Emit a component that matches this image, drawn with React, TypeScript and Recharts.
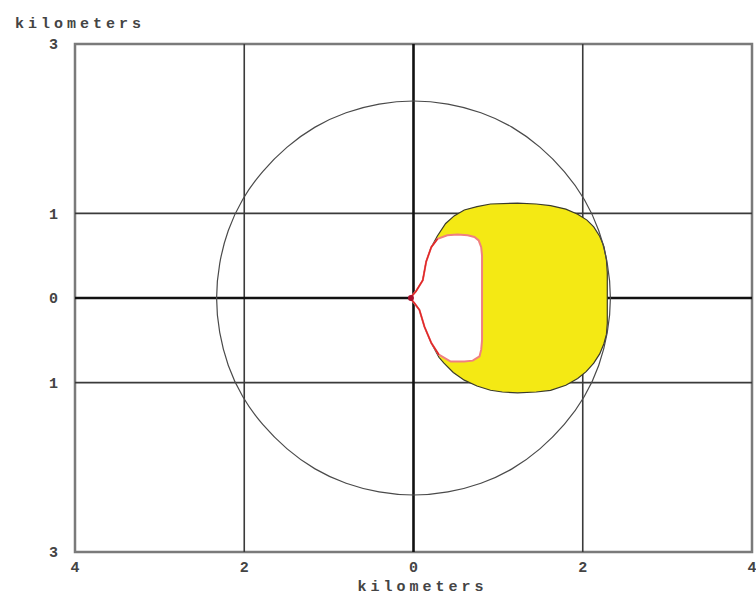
import {
  ComposedChart,
  Scatter,
  XAxis,
  YAxis,
  ReferenceLine,
  ReferenceArea,
  ReferenceDot,
} from "recharts"

// axis ticks (kilometers), labels printed without sign
const xTicks = [-4, -2, 0, 2, 4]
const yTicks = [-3, -1, 0, 1, 3]
const gridX = [-2, 2]
const gridY = [-1, 1]

// outer ring around the origin (control points for a smooth closed curve)
const ringPoints = [
  { x: 2.34, y: 0 }, { x: 2.3, y: 0.41 }, { x: 2.2, y: 0.8 }, { x: 2.03, y: 1.17 },
  { x: 1.79, y: 1.5 }, { x: 1.5, y: 1.79 }, { x: 1.17, y: 2.03 }, { x: 0.8, y: 2.2 },
  { x: 0.41, y: 2.3 }, { x: 0, y: 2.34 }, { x: -0.41, y: 2.3 }, { x: -0.8, y: 2.2 },
  { x: -1.17, y: 2.03 }, { x: -1.5, y: 1.79 }, { x: -1.79, y: 1.5 }, { x: -2.03, y: 1.17 },
  { x: -2.2, y: 0.8 }, { x: -2.3, y: 0.41 }, { x: -2.34, y: 0 }, { x: -2.3, y: -0.41 },
  { x: -2.2, y: -0.8 }, { x: -2.03, y: -1.17 }, { x: -1.79, y: -1.5 }, { x: -1.5, y: -1.79 },
  { x: -1.17, y: -2.03 }, { x: -0.8, y: -2.2 }, { x: -0.41, y: -2.3 }, { x: 0, y: -2.34 },
  { x: 0.41, y: -2.3 }, { x: 0.8, y: -2.2 }, { x: 1.17, y: -2.03 }, { x: 1.5, y: -1.79 },
  { x: 1.79, y: -1.5 }, { x: 2.03, y: -1.17 }, { x: 2.2, y: -0.8 }, { x: 2.3, y: -0.41 },
]

// yellow zone outline, clockwise from the cusp at the origin
const outerZone = [
  { x: -0.04, y: 0 }, { x: 0.03, y: 0.08 }, { x: 0.11, y: 0.21 }, { x: 0.15, y: 0.43 },
  { x: 0.21, y: 0.6 }, { x: 0.28, y: 0.73 }, { x: 0.38, y: 0.88 }, { x: 0.48, y: 0.97 },
  { x: 0.6, y: 1.04 }, { x: 0.75, y: 1.08 }, { x: 0.91, y: 1.11 }, { x: 1.23, y: 1.12 },
  { x: 1.45, y: 1.11 }, { x: 1.62, y: 1.09 }, { x: 1.8, y: 1.05 }, { x: 1.94, y: 0.99 },
  { x: 2.05, y: 0.92 }, { x: 2.13, y: 0.84 }, { x: 2.2, y: 0.73 }, { x: 2.25, y: 0.61 },
  { x: 2.28, y: 0.45 }, { x: 2.29, y: 0.3 }, { x: 2.29, y: -0.3 }, { x: 2.28, y: -0.43 },
  { x: 2.25, y: -0.54 }, { x: 2.2, y: -0.66 }, { x: 2.13, y: -0.77 }, { x: 2.04, y: -0.87 },
  { x: 1.94, y: -0.95 }, { x: 1.8, y: -1.03 }, { x: 1.62, y: -1.09 }, { x: 1.45, y: -1.11 },
  { x: 1.23, y: -1.12 }, { x: 1.05, y: -1.11 }, { x: 0.91, y: -1.09 }, { x: 0.75, y: -1.04 },
  { x: 0.6, y: -0.97 }, { x: 0.47, y: -0.88 }, { x: 0.36, y: -0.77 }, { x: 0.3, y: -0.7 },
  { x: 0.21, y: -0.53 }, { x: 0.13, y: -0.34 }, { x: 0.07, y: -0.14 }, { x: 0.01, y: -0.06 },
]

// white pocket with red border, clockwise from the cusp
const innerZone = [
  { x: -0.04, y: 0 }, { x: 0.03, y: 0.08 }, { x: 0.11, y: 0.21 }, { x: 0.15, y: 0.43 },
  { x: 0.21, y: 0.6 }, { x: 0.285, y: 0.7 }, { x: 0.4, y: 0.74 }, { x: 0.52, y: 0.75 },
  { x: 0.64, y: 0.74 }, { x: 0.72, y: 0.72 }, { x: 0.77, y: 0.68 }, { x: 0.8, y: 0.6 },
  { x: 0.81, y: 0.5 }, { x: 0.81, y: -0.5 }, { x: 0.8, y: -0.61 }, { x: 0.78, y: -0.69 },
  { x: 0.7, y: -0.74 }, { x: 0.6, y: -0.75 }, { x: 0.44, y: -0.75 }, { x: 0.3, y: -0.67 },
  { x: 0.21, y: -0.53 }, { x: 0.13, y: -0.34 }, { x: 0.07, y: -0.14 }, { x: 0.01, y: -0.06 },
]
const innerLeftEdge = [...innerZone.slice(19), ...innerZone.slice(0, 6)]

const font = '"Liberation Mono", "DejaVu Sans Mono", monospace'
const tickStyle = { fontFamily: font, fontSize: 15, fontWeight: "bold", fill: "#444" }
const noDot = () => <g />

export default function App() {
  return (
    <>
      <style>{"body{margin:0;overflow:hidden}"}</style>
      <ComposedChart
        width={756}
        height={598}
        margin={{ top: 44, right: 4, bottom: 0, left: 0 }}
      >
        <XAxis
          type="number"
          dataKey="x"
          domain={[-4, 4]}
          ticks={xTicks}
          tickFormatter={(v) => String(Math.abs(v))}
          allowDataOverflow
          axisLine={false}
          tickLine={false}
          tickSize={0}
          tickMargin={9}
          height={46}
          tick={tickStyle}
          label={{
            value: "kilometers",
            position: "insideBottom",
            offset: 7,
            dx: 9,
            style: { ...tickStyle, letterSpacing: 4 },
          }}
        />
        <YAxis
          type="number"
          dataKey="y"
          domain={[-3, 3]}
          ticks={yTicks}
          tickFormatter={(v) => String(Math.abs(v))}
          allowDataOverflow
          axisLine={false}
          tickLine={false}
          tickSize={0}
          tickMargin={17}
          width={75}
          tick={tickStyle}
          label={{
            value: "kilometers",
            position: "insideTopLeft",
            offset: 7,
            dx: 8,
            dy: -34,
            style: { ...tickStyle, letterSpacing: 4, textAnchor: "start" },
          }}
        />

        <Scatter
          data={outerZone}
          isAnimationActive={false}
          shape={noDot}
          line={{ fill: "#f4e914", stroke: "#3a3a2a", strokeWidth: 1.2 }}
          lineJointType="linearClosed"
        />
        <Scatter
          data={innerZone}
          isAnimationActive={false}
          shape={noDot}
          line={{ fill: "#ffffff", stroke: "#f08080", strokeWidth: 2 }}
          lineJointType="linearClosed"
        />
        <Scatter
          data={innerLeftEdge}
          isAnimationActive={false}
          shape={noDot}
          line={{ fill: "none", stroke: "#e02828", strokeWidth: 1.5 }}
          lineJointType="linear"
        />

        {gridX.map((v) => (
          <ReferenceLine key={`gx${v}`} x={v} stroke="#3a3a3a" strokeWidth={1.6} />
        ))}
        {gridY.map((v) => (
          <ReferenceLine key={`gy${v}`} y={v} stroke="#3a3a3a" strokeWidth={1.6} />
        ))}

        <Scatter
          data={ringPoints}
          isAnimationActive={false}
          shape={noDot}
          line={{ fill: "none", stroke: "#4a4a4a", strokeWidth: 1.2 }}
          lineJointType="basisClosed"
        />

        <ReferenceLine x={0} stroke="#111" strokeWidth={2.6} />
        <ReferenceLine y={0} stroke="#111" strokeWidth={2.6} />
        <ReferenceDot x={-0.03} y={0} r={3} fill="#a8102c" stroke="none" />
        <ReferenceArea
          x1={-4}
          x2={4}
          y1={-3}
          y2={3}
          fill="none"
          fillOpacity={0}
          stroke="#7a7a7a"
          strokeWidth={2.5}
        />
      </ComposedChart>
    </>
  )
}
